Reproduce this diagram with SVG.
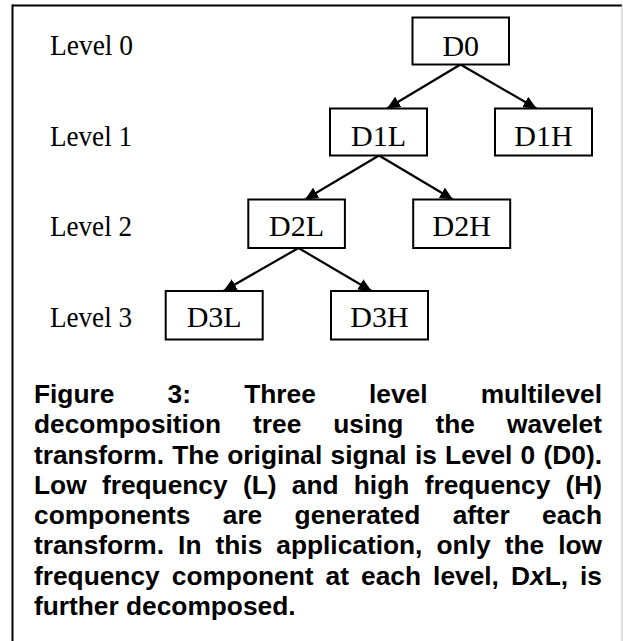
<svg xmlns="http://www.w3.org/2000/svg" width="623" height="641" viewBox="0 0 623 641">
<defs>
<marker id="ah" markerUnits="userSpaceOnUse" markerWidth="14" markerHeight="12" refX="13" refY="6" orient="auto">
<path d="M0,0 L13,6 L0,12 z" fill="#000"/>
</marker>
<style>
.box{fill:#fff;stroke:#000;stroke-width:2}
.t{font-family:"Liberation Serif","Times New Roman",serif;font-size:30px;fill:#000}
.c{font-family:"Liberation Sans",Arial,sans-serif;font-size:26.3px;font-weight:bold;fill:#000}
.e{stroke:#000;stroke-width:2.2;fill:none;marker-end:url(#ah)}
</style>
</defs>
<rect width="623" height="641" fill="#fff"/>
<g id="frame">
<line x1="12" y1="5.5" x2="622" y2="5.5" stroke="#000" stroke-width="2"/>
<line x1="12.5" y1="4.5" x2="12.5" y2="641" stroke="#000" stroke-width="2"/>
<line x1="622" y1="5" x2="622" y2="641" stroke="#bbb" stroke-width="1"/>
</g>
<g id="levels">
<text class="t" x="50" y="55" textLength="83" lengthAdjust="spacingAndGlyphs">Level 0</text>
<text class="t" x="50" y="145.7" textLength="82" lengthAdjust="spacingAndGlyphs">Level 1</text>
<text class="t" x="50" y="236" textLength="82" lengthAdjust="spacingAndGlyphs">Level 2</text>
<text class="t" x="50" y="326.7" textLength="82" lengthAdjust="spacingAndGlyphs">Level 3</text>
</g>
<g id="connectors">
<line class="e" x1="460.5" y1="64.5" x2="387" y2="108.5"/>
<line class="e" x1="460.5" y1="64.5" x2="536.5" y2="108.5"/>
<line class="e" x1="379" y1="155.5" x2="305" y2="199.5"/>
<line class="e" x1="379" y1="155.5" x2="453" y2="199.5"/>
<line class="e" x1="298.5" y1="248" x2="223.5" y2="291"/>
<line class="e" x1="298.5" y1="248" x2="371.5" y2="291"/>
</g>
<g id="D0"><rect class="box" x="412.5" y="17.5" width="96.5" height="47"/><text class="t" x="460.75" y="56" text-anchor="middle">D0</text></g>
<g id="D1L"><rect class="box" x="330" y="108.5" width="97" height="47"/><text class="t" x="378.5" y="145.7" text-anchor="middle">D1L</text></g>
<g id="D1H"><rect class="box" x="495" y="108.5" width="97" height="47"/><text class="t" x="543.5" y="145.7" text-anchor="middle">D1H</text></g>
<g id="D2L"><rect class="box" x="248.3" y="199.5" width="96.6" height="48.5"/><text class="t" x="296.6" y="235.5" text-anchor="middle">D2L</text></g>
<g id="D2H"><rect class="box" x="413.2" y="199.5" width="97" height="48.5"/><text class="t" x="461.7" y="235.5" text-anchor="middle">D2H</text></g>
<g id="D3L"><rect class="box" x="165.7" y="291" width="97" height="48.5"/><text class="t" x="214.2" y="326.7" text-anchor="middle">D3L</text></g>
<g id="D3H"><rect class="box" x="331" y="291" width="97" height="48.5"/><text class="t" x="379.5" y="326.7" text-anchor="middle">D3H</text></g>
<g id="caption">
<text class="c" y="403"><tspan x="34">Figure</tspan><tspan x="167.6">3:</tspan><tspan x="244.2">Three</tspan><tspan x="369">level</tspan><tspan x="602" text-anchor="end">multilevel</tspan></text>
<text class="c" y="433.3"><tspan x="34">decomposition</tspan><tspan x="253.1">tree</tspan><tspan x="333.3">using</tspan><tspan x="435.5">the</tspan><tspan x="602" text-anchor="end">wavelet</tspan></text>
<text class="c" y="463.6"><tspan x="34">transform.</tspan><tspan x="172.3">The</tspan><tspan x="227.3">original</tspan><tspan x="330.6">signal</tspan><tspan x="414.9">is</tspan><tspan x="445.1">Level</tspan><tspan x="520.6">0</tspan><tspan x="602" text-anchor="end">(D0).</tspan></text>
<text class="c" y="493.9"><tspan x="34">Low</tspan><tspan x="101.9">frequency</tspan><tspan x="242.9">(L)</tspan><tspan x="291.8">and</tspan><tspan x="353.8">high</tspan><tspan x="424.7">frequency</tspan><tspan x="602" text-anchor="end">(H)</tspan></text>
<text class="c" y="524.1"><tspan x="34">components</tspan><tspan x="222.75">are</tspan><tspan x="294.6">generated</tspan><tspan x="452.7">after</tspan><tspan x="602" text-anchor="end">each</tspan></text>
<text class="c" y="554.4"><tspan x="34">transform.</tspan><tspan x="178.1">In</tspan><tspan x="215.5">this</tspan><tspan x="276.3">application,</tspan><tspan x="436.5">only</tspan><tspan x="504.7">the</tspan><tspan x="602" text-anchor="end">low</tspan></text>
<text class="c" y="584.7"><tspan x="34">frequency</tspan><tspan x="171.8">component</tspan><tspan x="325.6">at</tspan><tspan x="361.1">each</tspan><tspan x="433.1">level,</tspan><tspan x="511">D<tspan font-style="italic">x</tspan>L,</tspan><tspan x="602" text-anchor="end">is</tspan></text>
<text class="c" x="34" y="615">further decomposed.</text>
</g>
</svg>
